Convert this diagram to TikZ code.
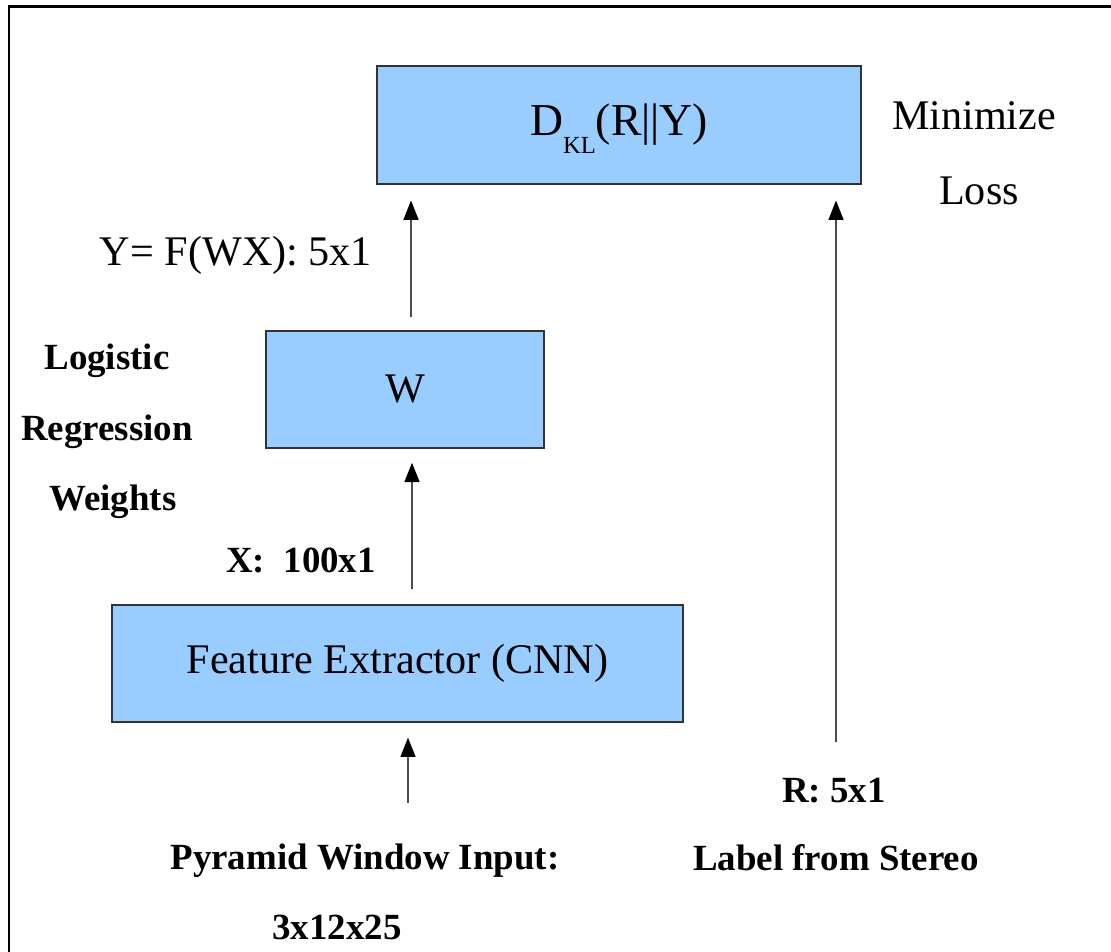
\documentclass[tikz,border=0pt]{standalone}
\usepackage{fontspec}
\setmainfont{Liberation Serif}
\usetikzlibrary{positioning, arrows.meta}
\definecolor{boxBlue}{HTML}{99CCFF}
\definecolor{boxLine}{HTML}{333333}
\tikzset{
  block/.style={draw=boxLine, fill=boxBlue, line width=0.8pt, inner sep=0pt,
    font=\fontsize{24}{28}\selectfont},
  txt/.style={font=\fontsize{24}{28}\selectfont, inner sep=0pt, anchor=base},
  btxt/.style={font=\fontsize{21}{25}\selectfont\bfseries, inner sep=0pt, anchor=base},
  flow/.style={draw=black!70, line width=0.9pt,
    -{Triangle[length=11pt, width=8.5pt, color=black]}},
}

\begin{document}
\begin{tikzpicture}[x=0.02cm, y=-0.02cm]
  \useasboundingbox (0,0) rectangle (1111,952);
  % frame
  \draw[line width=1.7pt] (9,952) -- (9,7) -- (1111,7);
  % blocks
  \node[block, minimum width=9.68cm, minimum height=2.36cm,
    font=\fontsize{26}{30}\selectfont] (dkl) at (619,125)
    {D\raisebox{-10pt}[0pt][0pt]{\fontsize{14}{14}\selectfont KL}(R||Y)};
  \node[block, minimum width=5.56cm, minimum height=2.34cm] (w) at (405,389.5) {W};
  \node[block, minimum width=11.42cm, minimum height=2.34cm] (cnn) at (397.5,663.5)
    {Feature Extractor (CNN)};
  % arrows
  \coordinate (colA) at (411,0);
  \coordinate (colB) at (412,0);
  \coordinate (inTail) at (408,803);
  \coordinate (rTail) at (836,742);
  \draw[flow, shorten >=8.5pt] (inTail) -- (inTail |- cnn.south);
  \draw[flow, shorten <=8.5pt, shorten >=8pt] (cnn.north -| colB) -- (w.south -| colB);
  \draw[flow, shorten <=7.4pt, shorten >=9pt] (w.north -| colA) -- (dkl.south -| colA);
  \draw[flow, shorten >=9pt] (rTail) -- (rTail |- dkl.south);
  % labels
  \node[txt] (minimize) at (974,130) {Minimize};
  \node[txt] (loss) at (979,205) {Loss};
  \node[txt] (yout) at (236,266) {Y= F(WX): 5x1};
  \node[btxt] (logistic) at (107,370) {Logistic};
  \node[btxt] (regression) at (107,440) {Regression};
  \node[btxt] (weights) at (113,510) {Weights};
  \node[btxt] (xin) at (301,572) {X:\ \ 100x1};
  \node[btxt] (pyramid) at (365,869) {Pyramid Window Input:};
  \node[btxt] (dims) at (337,939) {3x12x25};
  \node[btxt] (rlabel) at (834,802) {R: 5x1};
  \node[btxt] (stereo) at (836,870) {Label from Stereo};
\end{tikzpicture}
\end{document}
